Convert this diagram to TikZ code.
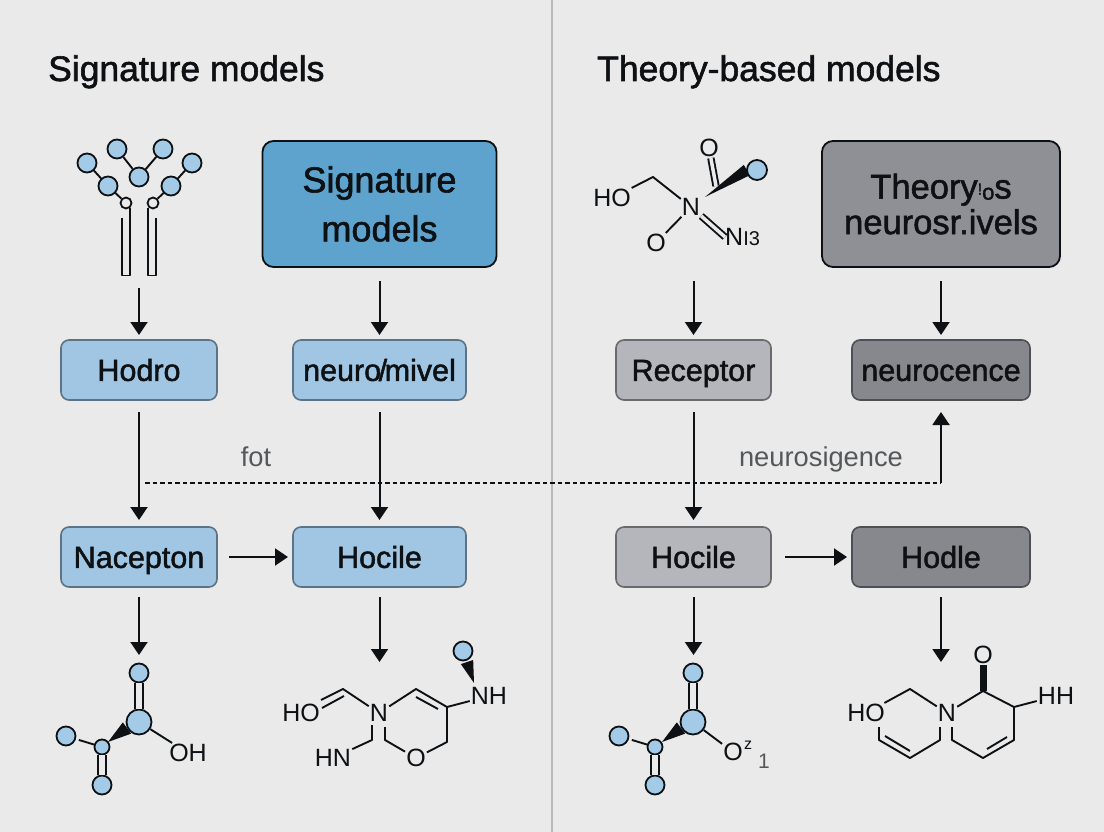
\documentclass[tikz,border=0pt]{standalone}
\usepackage{fontspec}
\setmainfont{Liberation Sans}
\newfontfamily\medfont[FakeBold=1.6]{Liberation Sans}
\usetikzlibrary{positioning,calc,arrows.meta}
\definecolor{pagegray}{HTML}{EAEAEA}
\definecolor{ruleline}{HTML}{B8B9BA}
\definecolor{inkdark}{HTML}{0E1114}
\definecolor{labelgray}{HTML}{55585A}
\definecolor{atomblue}{HTML}{A3CBE8}
\definecolor{boxblue}{HTML}{A0C6E3}
\definecolor{boxgrey}{HTML}{B5B6BB}
\definecolor{boxdark}{HTML}{87888D}
\definecolor{bigblue}{HTML}{5DA3CD}
\definecolor{biggrey}{HTML}{8E9095}
\newcommand{\fs}[1]{\fontsize{#1}{#1}\selectfont}
\newcommand{\wedgebond}[3]{\fill[inkdark] (#1) -- ($(#2)!#3!90:(#1)$) -- ($(#2)!#3!-90:(#1)$) -- cycle;}
\tikzset{
  softbox/.style={draw=#1!58!black, line width=1.6pt, rounded corners=8pt, minimum height=60pt,
    inner sep=0pt, outer sep=0pt, text=inkdark, font=\medfont\fs{30.5}, text height=21.8pt, text depth=0pt},
  bluebox/.style={softbox=boxblue, fill=boxblue, minimum width=#1},
  greybox/.style={softbox=boxgrey, fill=boxgrey, minimum width=155pt},
  darkbox/.style={softbox=boxdark, fill=boxdark, minimum width=178pt},
  bigbox/.style={draw=inkdark, line width=1.8pt, rounded corners=11pt, minimum height=126pt,
    inner sep=0pt, outer sep=0pt, align=center, text=inkdark, font=\medfont\fs{#1}},
  flow/.style={-{Triangle[length=13pt,width=17pt]}, line width=2pt, draw=inkdark},
  bond/.style={line width=1.9pt, draw=inkdark, line join=round},
  dbl/.style={bond, double=pagegray, double distance=#1},
  dbl/.default=4pt,
  atom/.style={circle, draw=inkdark, fill=atomblue, line width=1.8pt, minimum size=#1, inner sep=0pt},
  atom/.default=19pt,
  hub/.style={atom=25pt},
  leaf/.style={atom=15pt},
  joint/.style={circle, draw=inkdark, fill=pagegray, line width=1.8pt, minimum size=11pt, inner sep=0pt},
  chem/.style={inner sep=1pt, text=inkdark, font=\fs{25}},
  note/.style={anchor=base, text=labelgray, font=\fs{27.3}},
  heading/.style={anchor=base west, inner sep=0pt, text=inkdark, font=\medfont\fs{35.5}},
}
\begin{document}
\begin{tikzpicture}[x=1pt, y=-1pt]
  \useasboundingbox (0,0) rectangle (1104,832);
  \fill[pagegray] (0,0) rectangle (1104,832);
  \coordinate (ruletop) at (552,0);
  \coordinate (rulebot) at (552,832);
  \draw[ruleline, line width=1.5pt] (ruletop) -- (rulebot);

  % Headings
  \node[heading] (titleL) at (48,81) {Signature models};
  \node[heading] (titleR) at (597,81) {Theory-based models};

  % Boxes
  \node[bigbox=36, fill=bigblue, minimum width=234pt] (sigbox) at (379.5,204) {Signature\\[13pt]models};
  \node[bigbox=34.5, fill=biggrey, minimum width=238pt] (thebox) at (941,204) {Theory\raisebox{4pt}{\fs{16}!}{\fs{22}\raisebox{-1pt}{o}}s\\[1pt]neurosr.ivels};
  \node[bluebox=156pt] (hodro) at (139,370) {Hodro};
  \node[bluebox=173pt, right=76pt of hodro] (neuro) {neuro\kern-2.5pt/\kern-2.5pt mivel};
  \node[greybox] (recep) at (693.5,370) {Receptor};
  \node[darkbox, right=81pt of recep] (neuroc) {neurocence};
  \node[bluebox=156pt, below=127pt of hodro] (nacep) {Nacepton};
  \node[bluebox=173pt, below=127pt of neuro] (hocA) {Hocile};
  \node[greybox, below=127pt of recep] (hocB) {Hocile};
  \node[darkbox, below=127pt of neuroc] (hodle) {Hodle};

  % Flow between boxes
  \coordinate (iconL) at (hodro |- 0,288);
  \coordinate (iconR) at (recep |- 0,281);
  \coordinate (dashL) at (145,483);
  \coordinate (dashR) at (neuroc |- 0,483);
  \coordinate (molA) at (nacep |- 0,665);
  \coordinate (molB) at (hocA |- 0,662);
  \coordinate (molC) at (hocB |- 0,665);
  \coordinate (molD) at (hodle |- 0,662);
  \draw[flow, shorten >=5pt] (iconL) -- (hodro);
  \draw[flow, shorten >=5pt, shorten <=14pt] (sigbox) -- (neuro);
  \draw[flow, shorten >=5pt] (iconR) -- (recep);
  \draw[flow, shorten >=5pt, shorten <=14pt] (thebox) -- (neuroc);
  \draw[flow, shorten >=7pt, shorten <=12pt] (hodro) -- (nacep);
  \draw[flow, shorten >=7pt, shorten <=12pt] (neuro) -- (hocA);
  \draw[flow, shorten >=7pt, shorten <=12pt] (recep) -- (hocB);
  \draw[line width=1.8pt, draw=inkdark, dash pattern=on 4.5pt off 3pt] (dashL) -- (dashR);
  \draw[flow, shorten >=12pt] (dashR) -- (neuroc);
  \draw[flow, shorten >=5pt, shorten <=12pt] (nacep) -- (hocA);
  \draw[flow, shorten >=5pt, shorten <=14pt] (hocB) -- (hodle);
  \draw[flow, shorten >=10pt, shorten <=10pt] (nacep) -- (molA);
  \draw[flow, shorten <=10pt] (hocA) -- (molB);
  \draw[flow, shorten >=10pt, shorten <=10pt] (hocB) -- (molC);
  \draw[flow, shorten <=10pt] (hodle) -- (molD);
  \node[note] (fot) at (256,466) {fot};
  \node[note] (neurosig) at (821,466) {neurosigence};

  % Branched icon, top left
  \node[atom] (p1) at (117,149) {};
  \node[atom] (p2) at (163,149) {};
  \node[atom] (p3) at (87,163) {};
  \node[atom] (p4) at (192,163) {};
  \node[atom] (p5) at (139,177) {};
  \node[atom] (p6) at (108,186) {};
  \node[atom] (p7) at (171,186) {};
  \node[joint] (j1) at (126,203) {};
  \node[joint] (j2) at (153,203) {};
  \draw[bond] (p1) -- (p5);
  \draw[bond] (p2) -- (p5);
  \draw[bond] (p3) -- (p6);
  \draw[bond] (p6) -- (j1);
  \draw[bond] (p4) -- (p7);
  \draw[bond] (p7) -- (j2);
  \draw[bond] (122,218) |- (130,275.5) -- (130,208);
  \draw[bond] (156,218) |- (148,275.5) -- (148,208);

  % Molecule, top right
  \coordinate (q1) at (653,177);
  \coordinate (q2) at (716,186);
  \coordinate (q3) at (705,197);
  \coordinate (q4) at (747,170);
  \node[chem] (qho) at (612,198) {HO};
  \node[chem] (qn) at (691,207) {N};
  \node[chem] (qo1) at (656,243) {O};
  \node[chem] (qo2) at (709,148) {O};
  \node[chem, anchor=west, inner sep=0pt] (qni) at (725,237) {N\fs{20}I3};
  \wedgebond{q3}{q4}{6pt}
  \node[atom=20pt] (qc) at (757,170) {};
  \draw[bond] (qho) -- (q1) -- (qn);
  \draw[bond] (qn) -- (qo1);
  \draw[dbl=3.5pt] (qn) -- (qni.west);
  \draw[dbl=3.5pt] (qo2) -- (q2);

  % Molecule, bottom left
  \coordinate (a1) at (108,742);
  \coordinate (a2) at (127,728);
  \wedgebond{a1}{a2}{7pt}
  \node[atom] (at) at (139,673) {};
  \node[hub] (ac) at (139,722) {};
  \node[leaf] (as) at (102,747) {};
  \node[atom] (al) at (66,736) {};
  \node[atom] (ab) at (102,785) {};
  \node[chem] (aoh) at (188,753) {OH};
  \draw[dbl=6.5pt] (at) -- (ac);
  \draw[dbl=6.5pt] (as) -- (ab);
  \draw[bond] (ac) -- (aoh);
  \draw[bond, shorten <=3pt] (al) -- (as);

  % Molecule, bottom centre
  \coordinate (b1) at (343,689);
  \coordinate (b2) at (416,689);
  \coordinate (b3) at (447,707);
  \coordinate (b4) at (447,742);
  \coordinate (b5) at (385,727);
  \coordinate (b6) at (385,740);
  \coordinate (b7) at (372,725);
  \coordinate (b8) at (372,740);
  \coordinate (b9) at (474,683);
  \coordinate (b10) at (467,662);
  \coordinate (b11) at (321,700);
  \coordinate (b12) at (344,696);
  \coordinate (b13) at (416,697);
  \coordinate (b14) at (438,709);
  \coordinate (b15) at (322,708);
  \wedgebond{b9}{b10}{6.5pt}
  \node[atom] (bc) at (463,651) {};
  \node[chem] (bho) at (301,713) {HO};
  \node[chem] (bn) at (379,713) {N};
  \node[chem] (bhn) at (333,758) {HN};
  \node[chem] (bo) at (416,758) {O};
  \node[chem] (bnh) at (489,696) {NH};
  \draw[bond] (b11) -- (b1) -- (bn);
  \draw[bond] (b15) -- (b12);
  \draw[bond] (bn) -- (b2) -- (b3) -- (b4) -- (bo);
  \draw[bond] (b13) -- (b14);
  \draw[bond] (b3) -- (bnh);
  \draw[bond] (bo) -- (b6) -- (b5);
  \draw[bond] (b7) -- (b8) -- (bhn);

  % Molecule, bottom right of centre
  \coordinate (c1) at (662,742);
  \coordinate (c2) at (681,728);
  \wedgebond{c1}{c2}{7pt}
  \node[atom] (ct) at (693,673) {};
  \node[hub] (cc) at (693,722) {};
  \node[leaf] (cs) at (655,747) {};
  \node[atom] (cl) at (619,736) {};
  \node[atom] (cb) at (655,785) {};
  \node[chem] (cox) at (733,752) {O};
  \node[chem, font=\fs{16}] (cz) at (748,745) {z};
  \node[chem, text=labelgray, font=\fs{21}] (cone) at (764,761) {1};
  \draw[dbl=6.5pt] (ct) -- (cc);
  \draw[dbl=6.5pt] (cs) -- (cb);
  \draw[bond] (cc) -- (cox);
  \draw[bond, shorten <=3pt] (cl) -- (cs);

  % Molecule, far right
  \coordinate (d1) at (910,689);
  \coordinate (d2) at (983,691);
  \coordinate (d3) at (1014,707);
  \coordinate (d4) at (1014,740);
  \coordinate (d5) at (983,758);
  \coordinate (d6) at (952,740);
  \coordinate (d7) at (952,727);
  \coordinate (d8) at (940,727);
  \coordinate (d9) at (940,740);
  \coordinate (d10) at (910,758);
  \coordinate (d11) at (879,740);
  \coordinate (d12) at (879,727);
  \coordinate (d13) at (1007,737);
  \coordinate (d14) at (987,749);
  \coordinate (d15) at (885,736);
  \coordinate (d16) at (910,751);
  \node[chem] (dho) at (866,713) {HO};
  \node[chem] (dn) at (947,713) {N};
  \node[chem] (do) at (983,655) {O};
  \node[chem] (dhh) at (1056,696) {HH};
  \draw[bond] (dho) -- (d1) -- (dn);
  \draw[bond] (dn) -- (d2) -- (d3) -- (d4) -- (d5) -- (d6) -- (d7);
  \draw[bond, line width=7pt] (d2) -- (do);
  \draw[bond] (d3) -- (dhh);
  \draw[bond] (d13) -- (d14);
  \draw[bond] (d8) -- (d9) -- (d10) -- (d11) -- (d12);
  \draw[bond] (d15) -- (d16);
\end{tikzpicture}
\end{document}
